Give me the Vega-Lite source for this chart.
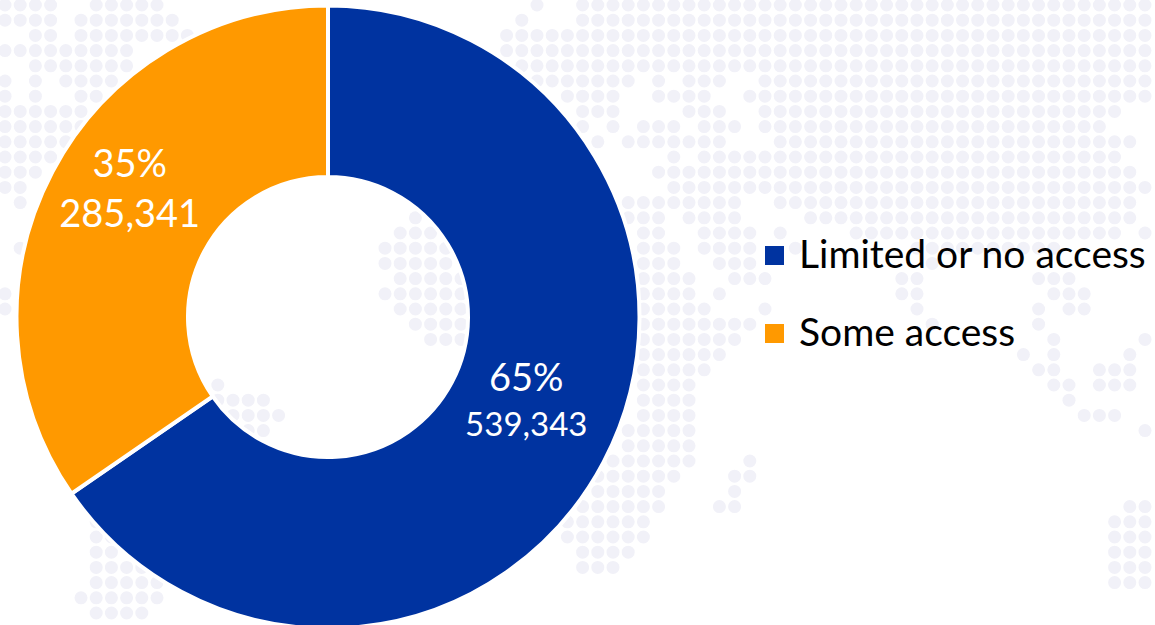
{"$schema":"https://vega.github.io/schema/vega-lite/v6.json","autosize":{"type":"none"},"width":656,"height":616,"padding":{"left":0,"top":9,"right":499,"bottom":0},"background":"white","view":{"stroke":null},"datasets":{"map":[
{"a":0,"b":3,"r":0},{"a":6,"b":10,"r":0},{"a":35,"b":35,"r":0},{"a":38,"b":75,"r":0},
{"a":0,"b":3,"r":1},{"a":5,"b":11,"r":1},{"a":34,"b":34,"r":1},{"a":38,"b":75,"r":1},
{"a":2,"b":3,"r":2},{"a":5,"b":12,"r":2},{"a":33,"b":75,"r":2},
{"a":0,"b":8,"r":3},{"a":33,"b":75,"r":3},
{"a":2,"b":8,"r":4},{"a":34,"b":75,"r":4},
{"a":0,"b":0,"r":5},{"a":2,"b":2,"r":5},{"a":4,"b":7,"r":5},{"a":35,"b":41,"r":5},{"a":43,"b":43,"r":5},{"a":45,"b":47,"r":5},{"a":50,"b":75,"r":5},
{"a":0,"b":0,"r":6},{"a":2,"b":2,"r":6},{"a":5,"b":6,"r":6},{"a":37,"b":40,"r":6},{"a":43,"b":46,"r":6},{"a":49,"b":75,"r":6},
{"a":0,"b":5,"r":7},{"a":38,"b":40,"r":7},{"a":45,"b":47,"r":7},{"a":50,"b":73,"r":7},
{"a":0,"b":5,"r":8},{"a":38,"b":38,"r":8},{"a":40,"b":40,"r":8},{"a":42,"b":44,"r":8},{"a":46,"b":48,"r":8},{"a":50,"b":72,"r":8},
{"a":0,"b":4,"r":9},{"a":39,"b":39,"r":9},{"a":41,"b":47,"r":9},{"a":51,"b":74,"r":9},
{"a":0,"b":3,"r":10},{"a":44,"b":44,"r":10},{"a":46,"b":73,"r":10},
{"a":0,"b":2,"r":11},{"a":43,"b":74,"r":11},
{"a":0,"b":1,"r":12},{"a":44,"b":75,"r":12},
{"a":1,"b":1,"r":13},{"a":41,"b":48,"r":13},{"a":51,"b":74,"r":13},
{"a":27,"b":27,"r":14},{"a":41,"b":43,"r":14},{"a":45,"b":48,"r":14},{"a":53,"b":74,"r":14},
{"a":26,"b":28,"r":15},{"a":42,"b":43,"r":15},{"a":46,"b":49,"r":15},{"a":51,"b":51,"r":15},{"a":56,"b":73,"r":15},{"a":75,"b":75,"r":15},
{"a":1,"b":1,"r":16},{"a":25,"b":29,"r":16},{"a":42,"b":44,"r":16},{"a":46,"b":49,"r":16},{"a":52,"b":52,"r":16},{"a":60,"b":69,"r":16},
{"a":25,"b":29,"r":17},{"a":42,"b":44,"r":17},{"a":47,"b":49,"r":17},{"a":61,"b":61,"r":17},
{"a":26,"b":30,"r":18},{"a":42,"b":45,"r":18},{"a":48,"b":50,"r":18},{"a":59,"b":60,"r":18},{"a":68,"b":70,"r":18},
{"a":0,"b":0,"r":19},{"a":25,"b":30,"r":19},{"a":42,"b":45,"r":19},{"a":47,"b":47,"r":19},{"a":59,"b":60,"r":19},{"a":69,"b":71,"r":19},
{"a":0,"b":0,"r":20},{"a":26,"b":30,"r":20},{"a":42,"b":46,"r":20},{"a":50,"b":50,"r":20},{"a":60,"b":60,"r":20},{"a":68,"b":68,"r":20},{"a":70,"b":71,"r":20},
{"a":27,"b":30,"r":21},{"a":42,"b":49,"r":21},{"a":61,"b":61,"r":21},{"a":68,"b":68,"r":21},
{"a":28,"b":30,"r":22},{"a":42,"b":48,"r":22},{"a":69,"b":69,"r":22},{"a":75,"b":75,"r":22},
{"a":42,"b":47,"r":23},{"a":67,"b":67,"r":23},{"a":69,"b":69,"r":23},{"a":74,"b":74,"r":23},
{"a":42,"b":46,"r":24},{"a":68,"b":69,"r":24},{"a":72,"b":74,"r":24},
{"a":14,"b":14,"r":25},{"a":42,"b":45,"r":25},{"a":69,"b":70,"r":25},{"a":72,"b":74,"r":25},
{"a":14,"b":17,"r":26},{"a":42,"b":45,"r":26},{"a":70,"b":70,"r":26},
{"a":15,"b":18,"r":27},{"a":42,"b":45,"r":27},{"a":71,"b":73,"r":27},
{"a":16,"b":17,"r":28},{"a":41,"b":45,"r":28},{"a":75,"b":75,"r":28},
{"a":41,"b":45,"r":29},
{"a":40,"b":45,"r":30},{"a":49,"b":49,"r":30},
{"a":39,"b":44,"r":31},{"a":48,"b":49,"r":31},
{"a":39,"b":43,"r":32},{"a":48,"b":48,"r":32},
{"a":38,"b":43,"r":33},{"a":47,"b":48,"r":33},{"a":74,"b":75,"r":33},
{"a":6,"b":6,"r":34},{"a":37,"b":42,"r":34},{"a":73,"b":75,"r":34},
{"a":6,"b":7,"r":35},{"a":37,"b":42,"r":35},{"a":73,"b":75,"r":35},
{"a":6,"b":7,"r":36},{"a":38,"b":41,"r":36},{"a":73,"b":75,"r":36},
{"a":6,"b":9,"r":37},{"a":38,"b":40,"r":37},{"a":73,"b":75,"r":37},
{"a":6,"b":10,"r":38},{"a":73,"b":75,"r":38},
{"a":5,"b":10,"r":39},
{"a":6,"b":9,"r":40}
],"shares":[
{"cat":"Limited or no access","value":539343,"pct":"65%","num":"539,343","ord":1},
{"cat":"Some access","value":285341,"pct":"35%","num":"285,341","ord":2}
]},
"layer":[
{"data":{"name":"map"},"mark":{"type":"rule","color":"#f1f1f8","strokeWidth":13,"strokeCap":"round","strokeDash":[0,15.199]},
"encoding":{"x":{"field":"a","type":"quantitative","axis":null,"scale":{"domain":[-0.329,42.829],"nice":false,"zero":false}},"x2":{"field":"b"},"y":{"field":"r","type":"quantitative","axis":null,"scale":{"domain":[0.2632,40.789],"nice":false,"zero":false,"reverse":true}}}},
{"data":{"name":"shares"},"mark":{"type":"arc","innerRadius":140,"outerRadius":311.5,"stroke":"white","strokeWidth":4},
"encoding":{"theta":{"field":"value","type":"quantitative","stack":true},"order":{"field":"ord","type":"ordinal"},"color":{"field":"cat","type":"nominal","title":null,"scale":{"domain":["Limited or no access","Some access"],"range":["#0033a0","#ff9900"]},
"legend":{"orient":"none","legendX":755,"legendY":227,"title":null,"symbolType":"square","symbolSize":360,"symbolStrokeWidth":0,"labelFont":"Lato","labelFontSize":39,"labelColor":"#000000","labelLimit":500,"labelOffset":5,"rowPadding":38}}}},
{"data":{"name":"shares"},"mark":{"type":"text","radius":224,"font":"Lato","fontSize":38,"color":"white","dy":-41},
"encoding":{"theta":{"field":"value","type":"quantitative","stack":true},"order":{"field":"ord","type":"ordinal"},"detail":{"field":"cat"},"text":{"condition":{"test":"datum.ord==1","field":"pct"},"value":""}}},
{"data":{"name":"shares"},"mark":{"type":"text","radius":224,"font":"Lato","fontSize":33,"color":"white","dy":5},
"encoding":{"theta":{"field":"value","type":"quantitative","stack":true},"order":{"field":"ord","type":"ordinal"},"detail":{"field":"cat"},"text":{"condition":{"test":"datum.ord==1","field":"num"},"value":""}}},
{"data":{"name":"shares"},"mark":{"type":"text","radius":224,"font":"Lato","fontSize":38,"color":"white","dy":-47},
"encoding":{"theta":{"field":"value","type":"quantitative","stack":true},"order":{"field":"ord","type":"ordinal"},"detail":{"field":"cat"},"text":{"condition":{"test":"datum.ord==2","field":"pct"},"value":""}}},
{"data":{"name":"shares"},"mark":{"type":"text","radius":224,"font":"Lato","fontSize":38,"color":"white","dy":3},
"encoding":{"theta":{"field":"value","type":"quantitative","stack":true},"order":{"field":"ord","type":"ordinal"},"detail":{"field":"cat"},"text":{"condition":{"test":"datum.ord==2","field":"num"},"value":""}}}
]}
